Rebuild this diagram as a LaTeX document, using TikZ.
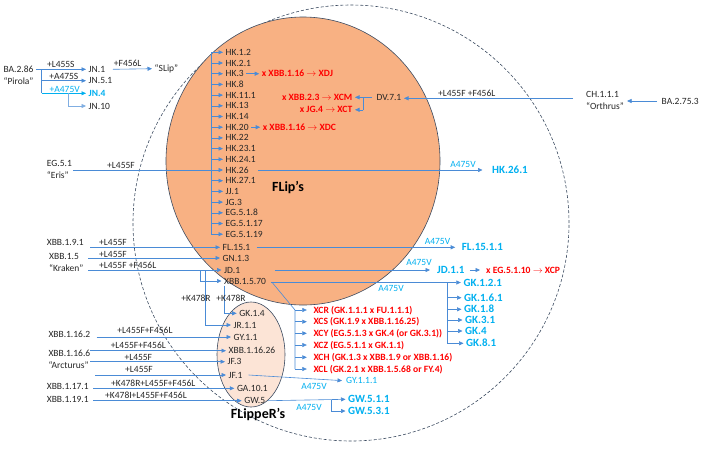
\documentclass[tikz,border=0pt]{standalone}
\usepackage{fontspec}
\setmainfont{Carlito}
\usetikzlibrary{arrows.meta}
\definecolor{orng}{HTML}{F8B183}
\definecolor{peach}{HTML}{FCE4D6}
\definecolor{olc}{HTML}{3B4A60}
\definecolor{lnc}{HTML}{4A8BD6}
\definecolor{cyn}{HTML}{00B0F0}
\definecolor{rd}{HTML}{FF0000}
\definecolor{txt}{HTML}{262626}
\begin{document}
\begin{tikzpicture}[x=1pt,y=-1pt,
 lab/.style={inner sep=0pt, inner xsep=2.5pt, anchor=west, font=\fontsize{9.5}{11}\selectfont, text=txt, text height=6.1pt, text depth=0pt},
 mut/.style={inner sep=0pt, font=\fontsize{9.5}{11}\selectfont, text=txt},
 two/.style={mut, font=\fontsize{9.5}{11.7}\selectfont},
 cmut/.style={mut, text=cyn},
 cyb/.style={lab, text=cyn, font=\fontsize{11}{12}\selectfont\bfseries, text height=7pt},
 rdb/.style={lab, text=rd, font=\fontsize{9.6}{11}\selectfont\bfseries},
 ttl/.style={inner sep=0pt, font=\fontsize{14}{16}\selectfont\bfseries, text=black},
 ln/.style={draw=lnc, line width=0.6pt},
 arr/.style={ln, -{Triangle[length=4.5pt,width=4pt]}},
]
\fill[white] (0,0) rectangle (703,448);
\path[use as bounding box] (0,0) rectangle (703,448);

% circles
\draw[olc, line width=0.6pt, dash pattern=on 3pt off 2pt] (351,223) circle[radius=218pt];
\draw[olc, line width=0.6pt, fill=orng] (303,161) ellipse[x radius=137pt, y radius=144pt];
\draw[olc, line width=0.6pt, fill=peach] (251,354.5) ellipse[x radius=34pt, y radius=52.5pt];

\node[ttl] (fliptitle) at (288,188) {FLip’s};
\node[ttl] (flippertitle) at (258,414) {FLippeR’s};

% ---------- BA.2.86 group
\node[two, align=center] (ba286) at (18.5,75.5) {BA.2.86\\“Pirola”};
\node[lab] (jn1) at (86,69.3) {JN.1};
\node[lab] (jn51) at (86,80.7) {JN.5.1};
\node[lab, text=cyn, font=\fontsize{9.5}{11}\selectfont\bfseries] (jn4) at (86,93.3) {JN.4};
\node[lab] (jn10) at (86,106) {JN.10};
\node[lab] (slip) at (152,68.7) {“SLip”};
\node[mut] (m1) at (60.8,64.5) {+L455S};
\node[mut] (m2) at (63.8,76.5) {+A475S};
\node[cmut] (m3) at (64.7,89) {+A475V};
\node[mut] (m4) at (127.7,63.5) {+F456L};
\coordinate (bas) at (36,69.3);
\coordinate (bav) at (41.7,69.3);
\coordinate (jnb) at (68.3,93.3);
\draw[arr] (bas) -- (jn1.west);
\draw[ln] (bav) -- (bav |- jn4);
\draw[arr] (bav |- jn51) -- (jn51.west);
\draw[arr, draw=cyn] (bav |- jn4) -- (jn4.west);
\draw[arr, draw=lnc!70] (jnb) |- (jn10.west);
\draw[arr] ([xshift=5pt]jn1.east) -- (slip.west);

% ---------- HK tree
\foreach \n/\t/\yy in {hk12/HK.1.2/52.3, hk21/HK.2.1/63, hk3/HK.3/73.7, hk8/HK.8/84.4,
  hk111/HK.11.1/95.1, hk13/HK.13/105.8, hk14/HK.14/116.5, hk20/HK.20/127.2,
  hk22/HK.22/137.9, hk231/HK.23.1/148.6, hk241/HK.24.1/159.3, hk26/HK.26/170,
  hk271/HK.27.1/180.7, jj1/JJ.1/191.4, jg3/JG.3/202.1, eg518/EG.5.1.8/212.8,
  eg5117/EG.5.1.17/223.5, eg5119/EG.5.1.19/234.2}
  {\node[lab] (\n) at (223,\yy) {\t};}
\coordinate (hkv) at (211,52.3);
\node[two, align=left, anchor=west] (eris) at (46.7,169.5) {EG.5.1\\“Eris”};
\node[mut] (m5) at (121,165) {+L455F};
\draw[ln] (hkv) -- (hkv |- eg5119);
\draw[ln] ([xshift=1pt]eris.east |- hk26) -- (hkv |- hk26);
\foreach \n in {hk12,hk21,hk3,hk8,hk111,hk13,hk14,hk20,hk22,hk231,hk241,hk26,hk271,jj1,jg3,eg518,eg5117,eg5119}
  {\draw[arr] (hkv |- \n) -- (\n.west);}

\node[rdb] (xdj) at (259.2,73.7) {x XBB.1.16 $\rightarrow$ XDJ};
\node[rdb] (xdc) at (260.2,127.2) {x XBB.1.16 $\rightarrow$ XDC};
\draw[arr] (hk3.east) -- (xdj.west);
\draw[arr] (hk20.east) -- (xdc.west);

\node[cyb] (hk261) at (489.5,170) {HK.26.1};
\node[cmut] (m6) at (463,164) {A475V};
\draw[arr, shorten >=7pt] ([xshift=7pt]hk26.east) -- (hk261.west);

% ---------- CH / DV
\node[lab] (dv71) at (374,97.3) {DV.7.1};
\node[two, align=left, anchor=west] (ch) at (586,100.2) {CH.1.1.1\\“Orthrus”};
\node[lab] (ba2753) at (659,101) {BA.2.75.3};
\node[mut] (m7) at (466.7,93.3) {+L455F +F456L};
\coordinate (chs) at (573,98.3);
\draw[arr] (chs) -- (chs -| dv71.east);
\draw[arr] ([xshift=-2pt]ba2753.west) -- ([xshift=3pt]ch.east |- ba2753.west);
\node[rdb, anchor=east] (xcm) at (355,97.3) {x XBB.2.3 $\rightarrow$ XCM};
\node[rdb, anchor=east] (xct) at (355,109.8) {x JG.4 $\rightarrow$ XCT};
\coordinate (dvb) at (363.3,97.3);
\draw[ln] ([xshift=-2pt]dv71.west) -- (dvb) -- (dvb |- xct);
\draw[arr] (dvb) -- (xcm.east);
\draw[arr] (dvb |- xct) -- (xct.east);

% ---------- FL / GN / JD / XBB.1.5.70
\node[lab] (fl151) at (220,247.3) {FL.15.1};
\node[lab] (gn13) at (220,258) {GN.1.3};
\node[lab] (jd1) at (221.5,270) {JD.1};
\node[lab] (xbb1570) at (221.5,281) {XBB.1.5.70};

\node[mut, anchor=west] (xbb191) at (46.7,242.7) {XBB.1.9.1};
\node[mut] (m8) at (113,242) {+L455F};
\coordinate (s191) at (90,247.3);
\draw[arr] (s191) -- (fl151.west);

\node[two, align=left, anchor=west] (xbb15) at (49,262.5) {XBB.1.5\\“Kraken”};
\node[mut] (m9) at (113,254) {+L455F};
\node[mut] (m10) at (127.7,265.8) {+L455F +F456L};
\coordinate (s15a) at (88,258);
\coordinate (s15b) at (88,270);
\draw[arr] (s15a) -- (gn13.west);
\draw[arr] (s15b) -- (jd1.west);

% ---------- FlippeR's
\node[lab] (gk14) at (236.7,313.3) {GK.1.4};
\node[lab] (jr11) at (231,325) {JR.1.1};
\node[lab] (gy11) at (231,337) {GY.1.1};
\node[lab] (xbb11626) at (226,350.7) {XBB.1.16.26};
\node[lab] (jf3) at (225,361.7) {JF.3};
\node[lab] (jf1) at (226,375) {JF.1};
\node[lab] (ga101) at (234.3,388.3) {GA.10.1};
\node[lab] (gw5) at (241.7,400.7) {GW.5};

\coordinate (b70) at (200,270);
\coordinate (bjr) at (205,270);
\coordinate (bgk) at (224.3,285.5);
\draw[arr] (b70) |- (xbb1570.west);
\draw[arr] (bjr) |- (jr11.west);
\draw[arr] (bgk) |- (gk14.west);
\node[mut] (m11) at (196,298.3) {+K478R};
\node[mut] (m12) at (231,298.3) {+K478R};

\node[mut, anchor=west] (xbb1162) at (48.3,334) {XBB.1.16.2};
\node[two, align=left, anchor=west] (xbb1166) at (48.3,359.2) {XBB.1.16.6\\“Arcturus”};
\node[mut, anchor=west] (xbb1171) at (46.7,386.7) {XBB.1.17.1};
\node[mut, anchor=west] (xbb1191) at (46.7,399) {XBB.1.19.1};
\node[mut] (m13) at (145,330.5) {+L455F+F456L};
\node[mut] (m14) at (138.3,345) {+L455F+F456L};
\node[mut] (m15) at (138.3,357) {+L455F};
\node[mut] (m16) at (139,369) {+L455F};
\node[mut] (m17) at (153.3,383.3) {+K478R+L455F+F456L};
\node[mut] (m18) at (146,395.7) {+K478I+L455F+F456L};
\coordinate (s1162) at (96.7,337);
\coordinate (s1166a) at (90,350.7);
\coordinate (s1166b) at (90,361.7);
\coordinate (s1166c) at (95,375);
\coordinate (s1171) at (93.3,388.3);
\coordinate (s1191) at (93.3,400.7);
\draw[arr] (s1162) -- (gy11.west);
\draw[arr] (s1166a) -- (xbb11626.west);
\draw[arr] (s1166b) -- (jf3.west);
\draw[arr] (s1166c) -- (jf1.west);
\draw[arr] (s1171) -- (ga101.west);
\draw[arr] (s1191) -- (gw5.west);

% ---------- right-hand descendants
\node[cyb] (fl1511) at (459.2,247.3) {FL.15.1.1};
\node[cmut] (m19) at (437.5,241.5) {A475V};
\draw[arr, shorten >=4pt] ([xshift=3.5pt]fl151.east) -- (fl1511.west);

\node[cyb] (jd11) at (434.5,270) {JD.1.1};
\node[cmut] (m20) at (419,262) {A475V};
\draw[arr, shorten >=4.5pt] ([xshift=32pt]jd1.east) -- (jd11.west);
\node[rdb] (xcp) at (483.5,270) {x EG.5.1.10 $\rightarrow$ XCP};
\draw[arr, shorten >=3.5pt] ([xshift=2.5pt]jd11.east) -- (xcp.west);

\node[cyb] (gk121) at (460.8,282.5) {GK.1.2.1};
\node[cyb] (gk161) at (461.5,297.7) {GK.1.6.1};
\node[cyb] (gk18) at (461.5,309.3) {GK.1.8};
\node[cyb] (gk31) at (462.5,320) {GK.3.1};
\node[cyb] (gk4) at (462.5,331) {GK.4};
\node[cyb] (gk81) at (463.5,343.3) {GK.8.1};
\node[cmut] (m21) at (391,288.3) {A475V};
\coordinate (gkv) at (447.3,282.5);
\draw[arr] ([xshift=2pt]xbb1570.east |- gk121) -- (gk121.west);
\draw[ln] (gkv) -- (gkv |- gk81);
\foreach \n in {gk161,gk18,gk31,gk4,gk81}
  {\draw[arr] (gkv |- \n) -- (\n.west);}

\node[rdb] (xcr) at (310.8,310) {XCR (GK.1.1.1 x FU.1.1.1)};
\node[rdb] (xcs) at (310.8,321.7) {XCS (GK.1.9 x XBB.1.16.25)};
\node[rdb] (xcy) at (310.8,333.3) {XCY (EG.5.1.3 x GK.4 (or GK.3.1))};
\node[rdb] (xcz) at (310.8,345) {XCZ (EG.5.1.1 x GK.1.1)};
\node[rdb] (xch) at (310.8,357.3) {XCH (GK.1.3 x XBB.1.9 or XBB.1.16)};
\node[rdb] (xcl) at (310.8,369) {XCL (GK.2.1 x XBB.1.5.68 or FY.4)};
\coordinate (xcv) at (295,310);
\draw[ln] ([xshift=4pt,yshift=-2pt]xbb1570.east) -- (xcv) -- (xcv |- xcl);
\foreach \n in {xcr,xcs,xcy,xcz,xch,xcl}
  {\draw[arr, shorten >=4pt] (xcv |- \n) -- (\n.west);}

\node[lab, text=cyn] (gy111) at (343.5,380.7) {GY.1.1.1};
\node[cmut] (m22) at (314,386.7) {A475V};
\draw[arr, shorten >=1.5pt] ([xshift=3.5pt]jf1.east) -- (gy111.west);

\node[cyb] (gw511) at (345.5,399.3) {GW.5.1.1};
\node[cyb] (gw531) at (345.5,411) {GW.5.3.1};
\node[cmut] (m23) at (309,407.3) {A475V};
\coordinate (gwb) at (331.7,399.8);
\draw[arr] (gw5.east) -- (gw511.west);
\draw[arr] (gwb) |- (gw531.west);
\end{tikzpicture}
\end{document}
